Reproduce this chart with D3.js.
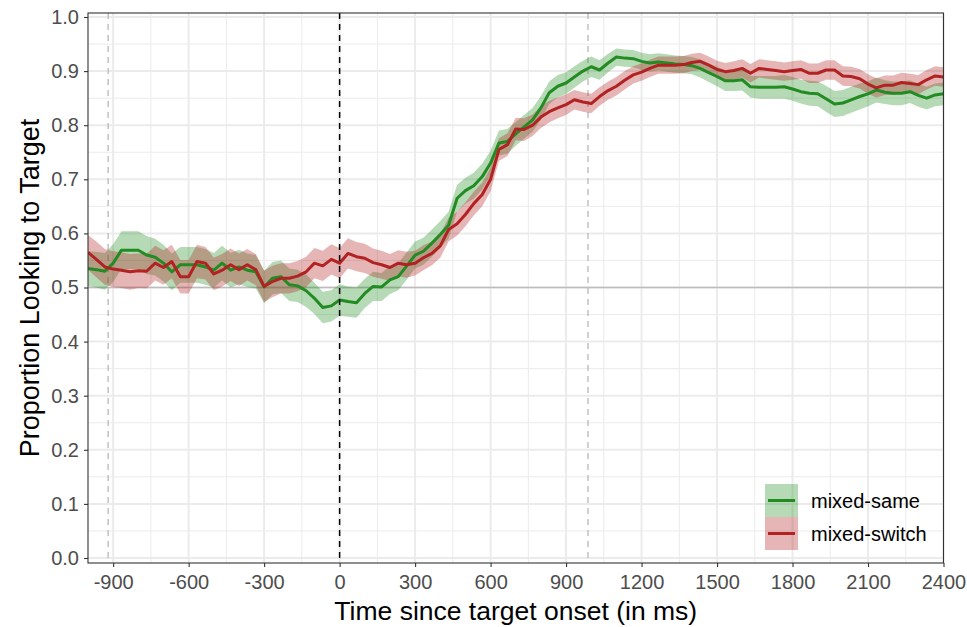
<!DOCTYPE html>
<html><head><meta charset="utf-8">
<script src="https://cdn.jsdelivr.net/npm/d3@7"></script>
<style>body{margin:0;background:#fff}svg{display:block}text{font-family:"Liberation Sans",Arial,sans-serif}</style>
</head><body>
<svg id="chart" width="967" height="627"></svg>
<script>
const times = [-1000,-967,-933,-900,-867,-833,-800,-767,-733,-700,-667,-633,-600,-567,-533,-500,-467,-433,-400,-367,-333,-300,-267,-233,-200,-167,-133,-100,-67,-33,0,33,67,100,133,167,200,233,267,300,333,367,400,433,467,500,533,567,600,633,667,700,733,767,800,833,867,900,933,967,1000,1033,1067,1100,1133,1167,1200,1233,1267,1300,1333,1367,1400,1433,1467,1500,1533,1567,1600,1633,1667,1700,1733,1767,1800,1833,1867,1900,1933,1967,2000,2033,2067,2100,2133,2167,2200,2233,2267,2300,2333,2367,2400];

const sameMean = [0.535,0.533,0.530,0.545,0.569,0.569,0.569,0.560,0.556,0.545,0.529,0.542,0.542,0.542,0.538,0.532,0.545,0.532,0.538,0.532,0.529,0.501,0.517,0.520,0.505,0.503,0.494,0.480,0.463,0.466,0.477,0.474,0.472,0.489,0.502,0.501,0.514,0.520,0.540,0.560,0.567,0.582,0.598,0.615,0.665,0.679,0.688,0.705,0.730,0.767,0.770,0.784,0.797,0.810,0.832,0.860,0.872,0.878,0.889,0.900,0.908,0.902,0.915,0.926,0.924,0.923,0.918,0.915,0.917,0.915,0.913,0.912,0.910,0.905,0.897,0.890,0.882,0.882,0.884,0.871,0.870,0.870,0.870,0.871,0.867,0.862,0.859,0.858,0.849,0.839,0.841,0.847,0.853,0.858,0.865,0.861,0.859,0.859,0.862,0.855,0.850,0.856,0.858];

const switchMean = [0.565,0.552,0.538,0.534,0.532,0.529,0.531,0.530,0.545,0.537,0.548,0.520,0.520,0.548,0.545,0.525,0.532,0.542,0.533,0.542,0.533,0.502,0.511,0.517,0.517,0.521,0.529,0.545,0.540,0.552,0.545,0.563,0.557,0.554,0.546,0.542,0.537,0.545,0.542,0.545,0.555,0.563,0.577,0.607,0.618,0.635,0.655,0.672,0.700,0.755,0.764,0.793,0.792,0.800,0.815,0.825,0.832,0.838,0.847,0.843,0.840,0.853,0.864,0.872,0.883,0.893,0.898,0.905,0.911,0.911,0.911,0.912,0.916,0.918,0.911,0.903,0.899,0.901,0.905,0.896,0.905,0.903,0.901,0.899,0.901,0.903,0.896,0.896,0.902,0.902,0.891,0.890,0.886,0.876,0.869,0.874,0.874,0.879,0.877,0.875,0.884,0.891,0.889];

const sameCI = [0.032,0.033,0.034,0.035,0.035,0.035,0.035,0.035,0.034,0.034,0.034,0.033,0.033,0.033,0.033,0.032,0.032,0.032,0.032,0.031,0.031,0.030,0.030,0.030,0.030,0.030,0.030,0.029,0.029,0.029,0.029,0.028,0.028,0.027,0.027,0.026,0.026,0.025,0.025,0.025,0.025,0.025,0.025,0.025,0.025,0.024,0.024,0.024,0.023,0.023,0.023,0.022,0.022,0.022,0.022,0.021,0.021,0.020,0.020,0.019,0.019,0.018,0.017,0.016,0.016,0.016,0.016,0.016,0.016,0.016,0.016,0.016,0.016,0.017,0.017,0.018,0.019,0.019,0.020,0.020,0.021,0.021,0.021,0.022,0.022,0.022,0.023,0.023,0.024,0.024,0.024,0.024,0.024,0.023,0.023,0.022,0.022,0.022,0.021,0.021,0.021,0.021,0.021];

const switchCI = [0.032,0.033,0.033,0.033,0.033,0.033,0.032,0.032,0.032,0.032,0.031,0.031,0.031,0.031,0.030,0.030,0.030,0.030,0.030,0.029,0.029,0.029,0.029,0.028,0.028,0.028,0.028,0.028,0.028,0.028,0.028,0.028,0.027,0.027,0.026,0.026,0.025,0.024,0.024,0.023,0.023,0.022,0.022,0.022,0.022,0.022,0.022,0.022,0.022,0.021,0.021,0.021,0.021,0.020,0.020,0.020,0.019,0.019,0.018,0.018,0.018,0.017,0.017,0.017,0.017,0.016,0.016,0.016,0.016,0.016,0.016,0.016,0.016,0.016,0.016,0.016,0.016,0.017,0.017,0.017,0.017,0.017,0.017,0.017,0.017,0.017,0.018,0.018,0.018,0.018,0.018,0.018,0.018,0.018,0.018,0.018,0.018,0.018,0.018,0.018,0.018,0.018,0.018];

const seriesNames = ["mixed-same","mixed-switch"];
const seriesColors = ["#228B22","#B22222"];
const xTicks = [-900,-600,-300,0,300,600,900,1200,1500,1800,2100,2400];
const yTicks = [0,0.1,0.2,0.3,0.4,0.5,0.6,0.7,0.8,0.9,1.0];
const refTimes = [-920, 987];

const svg = d3.select("#chart");
const L = 88, R = 943.5, T = 13, B = 563;
const x = d3.scaleLinear().domain([-1000,2400]).range([L,R]);
const y = d3.scaleLinear().domain([0,1]).range([558,17]);

svg.append("rect").attr("x",L).attr("y",T).attr("width",R-L).attr("height",B-T).attr("fill","#fff");

// grid
const g = svg.append("g");
const xMinor = [-750,-450,-150,150,450,750,1050,1350,1650,1950,2250];
const yMinor = [0.05,0.15,0.25,0.35,0.45,0.55,0.65,0.75,0.85,0.95];
g.selectAll(".xm").data(xMinor).join("line").attr("x1",d=>x(d)).attr("x2",d=>x(d)).attr("y1",T).attr("y2",B).attr("stroke","#ebebeb").attr("stroke-width",1);
g.selectAll(".ym").data(yMinor).join("line").attr("x1",L).attr("x2",R).attr("y1",d=>y(d)).attr("y2",d=>y(d)).attr("stroke","#ebebeb").attr("stroke-width",1);
g.selectAll(".xM").data(xTicks).join("line").attr("x1",d=>x(d)).attr("x2",d=>x(d)).attr("y1",T).attr("y2",B).attr("stroke","#ebebeb").attr("stroke-width",2);
g.selectAll(".yM").data(yTicks).join("line").attr("x1",L).attr("x2",R).attr("y1",d=>y(d)).attr("y2",d=>y(d)).attr("stroke","#ebebeb").attr("stroke-width",2);

// reference lines
svg.append("line").attr("x1",L).attr("x2",R).attr("y1",y(0.5)).attr("y2",y(0.5)).attr("stroke","#bdbdbd").attr("stroke-width",1.6);
svg.selectAll(".ref").data(refTimes).join("line").attr("x1",d=>x(d)).attr("x2",d=>x(d)).attr("y1",T).attr("y2",B)
  .attr("stroke","#bdbdbd").attr("stroke-width",1.4).attr("stroke-dasharray","6,5");

svg.append("clipPath").attr("id","clip").append("rect").attr("x",L).attr("y",T).attr("width",R-L).attr("height",B-T);
const plot = svg.append("g").attr("clip-path","url(#clip)");

const series = [
  {name:seriesNames[0], color:seriesColors[0], mean:sameMean, ci:sameCI},
  {name:seriesNames[1], color:seriesColors[1], mean:switchMean, ci:switchCI}
];
const area = d3.area().x((d,i)=>x(times[i])).y0(d=>y(d[0]-d[1])).y1(d=>y(d[0]+d[1]));
series.forEach(s=>{
  const pts = s.mean.map((m,i)=>[m,s.ci[i]]);
  plot.append("path").attr("d",area(pts)).attr("fill",s.color).attr("fill-opacity",0.33).attr("stroke","none");
});
const line = d3.line().x((d,i)=>x(times[i])).y(d=>y(d));
series.forEach(s=>{
  plot.append("path").attr("d",line(s.mean)).attr("fill","none").attr("stroke",s.color).attr("stroke-width",3).attr("stroke-linejoin","round");
});

// black dashed onset line
svg.append("line").attr("x1",x(0)).attr("x2",x(0)).attr("y1",T).attr("y2",B).attr("stroke","#000").attr("stroke-width",1.5).attr("stroke-dasharray","6,5");

// panel border
svg.append("rect").attr("x",L).attr("y",T).attr("width",R-L).attr("height",B-T).attr("fill","none").attr("stroke","#333").attr("stroke-width",1.1);

// axes
const xAxis = svg.append("g").attr("transform",`translate(0,${B})`).call(d3.axisBottom(x).tickValues(xTicks).tickFormat(d=>String(d)).tickSizeOuter(0).tickSize(4).tickPadding(8));
const yAxis = svg.append("g").attr("transform",`translate(${L},0)`).call(d3.axisLeft(y).tickValues(yTicks).tickFormat(d=>d.toFixed(1)).tickSizeOuter(0).tickSize(4).tickPadding(5));
[xAxis,yAxis].forEach(a=>{
  a.select(".domain").remove();
  a.selectAll(".tick line").attr("stroke","#333").attr("stroke-width",1.1);
  a.selectAll(".tick text").attr("fill","#4d4d4d").style("font-size","20px").style("font-family",'"Liberation Sans",Arial,sans-serif');
});

svg.append("text").attr("x",(L+R)/2).attr("y",620).attr("text-anchor","middle").style("font-size","26.5px").attr("fill","#000").text("Time since target onset (in ms)");
svg.append("text").attr("transform",`translate(39,${(T+B)/2}) rotate(-90)`).attr("text-anchor","middle").style("font-size","27px").attr("fill","#000").text("Proportion Looking to Target");

// legend
const lg = svg.append("g").attr("transform","translate(765,484)");
series.forEach((s,i)=>{
  const gy = i*33;
  lg.append("rect").attr("x",0).attr("y",gy).attr("width",33).attr("height",33).attr("fill",s.color).attr("fill-opacity",0.33);
  lg.append("line").attr("x1",3).attr("x2",30).attr("y1",gy+16.5).attr("y2",gy+16.5).attr("stroke",s.color).attr("stroke-width",3);
  lg.append("text").attr("x",46).attr("y",gy+16.5).attr("dy","0.35em").style("font-size","20px").attr("fill","#000").text(s.name);
});
</script>
</body></html>
